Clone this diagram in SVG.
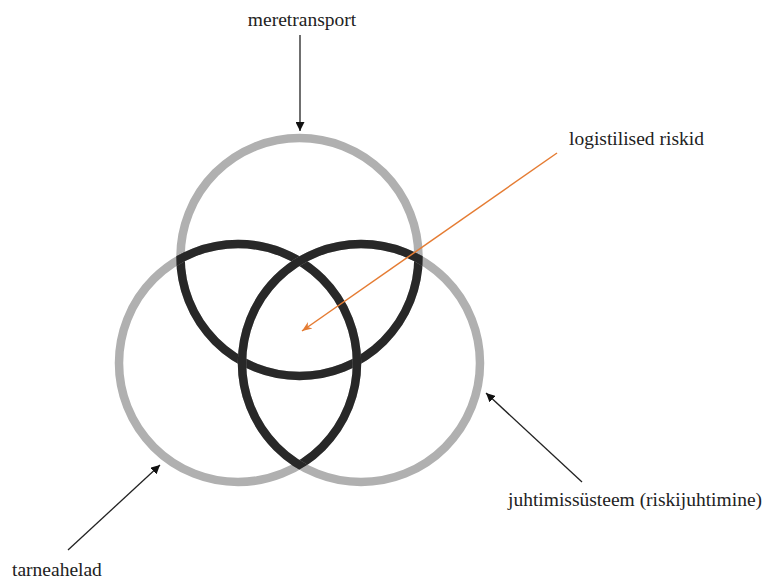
<svg xmlns="http://www.w3.org/2000/svg" width="770" height="582" viewBox="0 0 770 582">
<style>
.ring{fill:none;stroke:#b0b0b0;stroke-width:8.5}
.dark{fill:none;stroke:#111;stroke-opacity:0.85;stroke-width:8.5}
.lbl{font-family:"Liberation Serif","Times New Roman",serif;font-size:19.5px;fill:#222}
.blk{stroke:#222;stroke-width:1.3;fill:none}
.org{stroke:#e57c33;stroke-width:1.5;fill:none}
</style>
<defs>
<marker id="ab" viewBox="0 0 10 10" refX="10" refY="5" markerWidth="9" markerHeight="9" markerUnits="userSpaceOnUse" orient="auto"><path d="M0,0 L10,5 L0,10 Z" fill="#111"/></marker>
<marker id="ao" viewBox="0 0 10 10" refX="10" refY="5" markerWidth="10" markerHeight="10" markerUnits="userSpaceOnUse" orient="auto"><path d="M0,1 L10,5 L0,9 L3,5 Z" fill="#e57c33"/></marker>
<clipPath id="cTop"><circle cx="238" cy="363" r="123.25"/><circle cx="361" cy="363" r="123.25"/></clipPath>
<clipPath id="cLeft"><circle cx="299.5" cy="257" r="123.25"/><circle cx="361" cy="363" r="123.25"/></clipPath>
<clipPath id="cRight"><circle cx="299.5" cy="257" r="123.25"/><circle cx="238" cy="363" r="123.25"/></clipPath>
</defs>
<g id="meretransport-circle">
<circle class="ring" cx="299.5" cy="257" r="119"/>
<circle class="dark" cx="299.5" cy="257" r="119" clip-path="url(#cTop)"/>
</g>
<g id="tarneahelad-circle">
<circle class="ring" cx="238" cy="363" r="119"/>
<circle class="dark" cx="238" cy="363" r="119" clip-path="url(#cLeft)"/>
</g>
<g id="juhtimissysteem-circle">
<circle class="ring" cx="361" cy="363" r="119"/>
<circle class="dark" cx="361" cy="363" r="119" clip-path="url(#cRight)"/>
</g>
<g id="label-meretransport"><text class="lbl" x="302" y="26" text-anchor="middle">meretransport</text></g>
<g id="label-logistilised"><text class="lbl" x="569" y="145">logistilised riskid</text></g>
<g id="label-juhtimis"><text class="lbl" x="508" y="506">juhtimissüsteem (riskijuhtimine)</text></g>
<g id="label-tarneahelad"><text class="lbl" x="12" y="576">tarneahelad</text></g>
<g id="connectors">
<line class="blk" x1="300" y1="35" x2="300" y2="131" marker-end="url(#ab)"/>
<line class="org" x1="557" y1="153" x2="302" y2="331" marker-end="url(#ao)"/>
<line class="blk" x1="582" y1="482" x2="486" y2="393" marker-end="url(#ab)"/>
<line class="blk" x1="68" y1="550" x2="160" y2="465" marker-end="url(#ab)"/>
</g>
</svg>
